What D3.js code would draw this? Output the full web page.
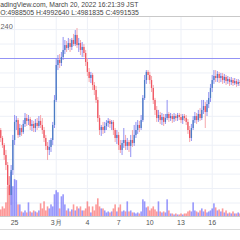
<!DOCTYPE html>
<html><head><meta charset="utf-8">
<script src="https://cdn.jsdelivr.net/npm/d3@7"></script>
<style>html,body{margin:0;padding:0;background:#fff;overflow:hidden}svg{display:block}</style>
</head><body><svg id="c" width="240" height="240"></svg>
<script>
// BTCJPY 4h candles (prices in thousand JPY), first bar 2022-02-23 12:00
const firstBar = "2022-02-23T12:00";
const barHours = 4;
const opens = [
4540,4505,4450,4401,4332,4263,4125,4055,4228,4436,
4561,4574,4471,4519,4491,4547,4588,4568,4581,4533,
4547,4519,4554,4533,4568,4540,4505,4450,4395,4367,
4388,4436,4540,4713,4955,4990,4969,5010,5059,5093,
5073,5107,5080,5128,5100,5163,5093,5107,5059,5080,
5038,4976,4907,4865,4886,4817,4782,4713,4588,4505,
4526,4505,4533,4554,4568,4547,4561,4505,4450,4471,
4401,4367,4415,4436,4395,4422,4395,4436,4415,4471,
4505,4540,4519,4574,4727,4851,4907,4886,4851,4796,
4713,4644,4588,4609,4574,4595,4561,4588,4616,4588,
4602,4581,4602,4588,4609,4595,4574,4602,4588,4561,
4505,4450,4519,4574,4602,4574,4616,4588,4644,4671,
4630,4685,4727,4796,4851,4879,4865,4893,4865,4879,
4851,4872,4844,4858,4837,4851,4830,4844,4824,4837];
const highs = [
4561,4519,4464,4415,4367,4284,4159,4263,4471,4609,
4602,4588,4547,4540,4574,4623,4616,4609,4595,4574,
4568,4581,4588,4602,4609,4588,4526,4471,4422,4436,
4450,4561,4747,5003,5024,5031,5045,5149,5128,5121,
5142,5135,5142,5170,5197,5211,5142,5128,5114,5100,
5059,5003,4934,4907,4900,4837,4810,4734,4609,4540,
4561,4561,4574,4588,4581,4574,4574,4519,4505,4491,
4436,4436,4519,4471,4450,4436,4471,4505,4540,4561,
4574,4568,4609,4747,4886,4920,4920,4907,4879,4817,
4727,4671,4644,4630,4623,4616,4616,4713,4630,4623,
4616,4623,4616,4623,4623,4616,4616,4616,4609,4581,
4533,4547,4602,4630,4623,4644,4657,4713,4713,4699,
4713,4768,4824,4886,4920,4920,4913,4907,4900,4900,
4893,4886,4879,4872,4872,4865,4865,4858,4858,4851];
const lows = [
4484,4422,4381,4298,4228,4055,3986,3986,4194,4401,
4505,4450,4457,4464,4478,4526,4533,4540,4505,4498,
4491,4491,4505,4519,4519,4478,4422,4367,4298,4332,
4353,4401,4519,4699,4920,4934,4948,4990,5031,5045,
5059,5045,5059,5086,5086,5073,5045,5024,5010,5010,
4948,4879,4837,4830,4782,4747,4692,4561,4471,4464,
4478,4484,4505,4526,4519,4505,4471,4422,4408,4367,
4346,4332,4381,4367,4367,4353,4318,4388,4395,4450,
4478,4491,4505,4561,4713,4824,4851,4824,4768,4685,
4609,4561,4561,4547,4540,4533,4547,4574,4561,4568,
4554,4561,4568,4568,4574,4554,4547,4568,4540,4478,
4422,4429,4505,4554,4547,4561,4568,4574,4616,4519,
4602,4657,4699,4768,4824,4837,4837,4830,4837,4824,
4830,4817,4824,4810,4817,4810,4817,4803,4810,4810];
const closes = [
4505,4450,4401,4332,4263,4125,4055,4228,4436,4561,
4574,4471,4519,4491,4547,4588,4568,4581,4533,4547,
4519,4554,4533,4568,4540,4505,4450,4395,4367,4388,
4436,4540,4713,4955,4990,4969,5010,5059,5093,5073,
5107,5080,5128,5100,5163,5093,5107,5059,5080,5038,
4976,4907,4865,4886,4817,4782,4713,4588,4505,4526,
4505,4533,4554,4568,4547,4561,4505,4450,4471,4401,
4367,4415,4436,4395,4422,4395,4436,4415,4471,4505,
4540,4519,4574,4727,4851,4907,4886,4851,4796,4713,
4644,4588,4609,4574,4595,4561,4588,4616,4588,4602,
4581,4602,4588,4609,4595,4574,4602,4588,4561,4505,
4450,4519,4574,4602,4574,4616,4588,4644,4671,4630,
4685,4727,4796,4851,4879,4865,4893,4865,4879,4851,
4872,4844,4858,4837,4851,4830,4844,4824,4837,4830];
const volumes = [
300,420,600,480,840,1800,2400,2640,1800,2220,
2160,720,720,300,240,360,240,840,300,240,
360,300,240,360,780,480,900,360,600,480,
720,600,1320,1560,1440,480,1200,1320,720,360,
480,300,420,720,360,600,480,600,360,360,
480,900,600,240,600,360,720,1080,600,480,
480,360,240,300,240,300,480,720,300,540,
720,300,360,300,900,300,360,240,240,180,
240,180,300,1020,900,540,600,360,480,600,
420,300,900,300,240,300,240,1020,360,180,
180,120,180,120,120,180,120,180,180,300,
360,300,840,360,300,240,360,480,300,420,
240,300,360,480,780,540,360,420,300,480,
240,360,180,240,180,300,180,180,240,180];
const tickDates = ["2022-02-25T00:00","2022-03-01T00:00","2022-03-04T00:00","2022-03-07T00:00","2022-03-10T00:00","2022-03-13T00:00","2022-03-16T00:00"];
const tickLabels = ["25","3月","4","7","10","13","16"];
const hLineLevel = 5000;
const headerLine1 = "adingView.com, March 20, 2022 16:21:39 JST";
const headerLine2 = "O:4988505 H:4992640 L:4981835 C:4991535";
const intervalText = "240";

const parse = d3.timeParse("%Y-%m-%dT%H:%M");
const t0 = parse(firstBar);
const bars = closes.map((c,i)=>({t:d3.timeHour.offset(t0, i*barHours), o:opens[i], h:highs[i], l:lows[i], c, v:volumes[i]}));

const svg = d3.select("#c");
const W=240, plotTop=17, plotBottom=216.5;
const x = d3.scaleTime().domain([parse(tickDates[0]), parse(tickDates[6])]).range([14.6, 212.2]);
const y = d3.scaleLinear().domain([4000, 5000]).range([203, 58.5]);
const yv = d3.scaleLinear().domain([0, 3000]).range([plotBottom, 166]);
const font = "'Liberation Sans', Arial, sans-serif";

svg.append("defs").append("clipPath").attr("id","pc").append("rect").attr("x",0).attr("y",plotTop).attr("width",W).attr("height",plotBottom-plotTop);
const plot = svg.append("g").attr("clip-path","url(#pc)");

// grid
plot.append("g").selectAll("line").data(d3.range(3700,5400,100)).join("line")
  .attr("x1",0).attr("x2",W).attr("y1",d=>y(d)).attr("y2",d=>y(d))
  .attr("stroke","#edf0f7").attr("stroke-width",1);
plot.append("g").selectAll("line").data(tickDates.map(parse)).join("line")
  .attr("x1",d=>x(d)).attr("x2",d=>x(d)).attr("y1",plotTop).attr("y2",plotBottom)
  .attr("stroke","#edf0f7").attr("stroke-width",1);

// volume
plot.append("g").selectAll("rect").data(bars).join("rect")
  .attr("x",d=>x(d.t)-0.8).attr("width",1.6)
  .attr("y",d=>yv(d.v)).attr("height",d=>plotBottom-yv(d.v))
  .attr("fill",d=>d.c>=d.o?"rgba(90,90,250,0.62)":"rgba(250,80,80,0.58)");

// horizontal level line
plot.append("line").attr("x1",0).attr("x2",W).attr("y1",y(hLineLevel)).attr("y2",y(hLineLevel))
  .attr("stroke","#9393f5").attr("stroke-width",1);

// candles
const cg = plot.append("g").selectAll("g").data(bars).join("g");
cg.append("line").attr("x1",d=>x(d.t)).attr("x2",d=>x(d.t))
  .attr("y1",d=>y(d.h)).attr("y2",d=>y(d.l))
  .attr("stroke",d=>d.c>=d.o?"#8585f0":"#f59ea3").attr("stroke-width",0.9);
cg.append("rect").attr("x",d=>x(d.t)-0.65).attr("width",1.3)
  .attr("y",d=>y(Math.max(d.o,d.c))).attr("height",d=>Math.max(0.8,Math.abs(y(d.o)-y(d.c))))
  .attr("fill",d=>d.c>=d.o?"#4a7cc4":"#ef5561");

// axis lines
svg.append("line").attr("x1",0).attr("x2",W).attr("y1",16.5).attr("y2",16.5).attr("stroke","#c9c9c9");
svg.append("line").attr("x1",0).attr("x2",W).attr("y1",plotBottom).attr("y2",plotBottom).attr("stroke","#c9c9c9");
svg.append("line").attr("x1",0).attr("x2",W).attr("y1",229.5).attr("y2",229.5).attr("stroke","#dcdcdc");

// x tick labels
svg.append("g").selectAll("text").data(tickDates).join("text")
  .attr("x",d=>x(parse(d))).attr("y",225).attr("text-anchor","middle")
  .attr("font-family",font).attr("font-size",7).attr("fill","#555")
  .text((d,i)=>tickLabels[i]);

// header (fit each line to its width in the reference)
function fitText(str, x0, x1, yb){
  const t = svg.append("text").attr("x",x0).attr("y",yb)
    .attr("font-family",font).attr("font-size",10).attr("fill","#444").text(str);
  const w = t.node().getComputedTextLength();
  t.attr("font-size", 10*(x1-x0)/w);
  return t;
}
fitText(headerLine1, 0.3, 138.5, 7.3);
fitText(headerLine2, 0.3, 139, 15);
svg.append("text").attr("x",0.5).attr("y",29).attr("font-family",font).attr("font-size",7.4).attr("fill","#666").text(intervalText);
</script></body></html>
